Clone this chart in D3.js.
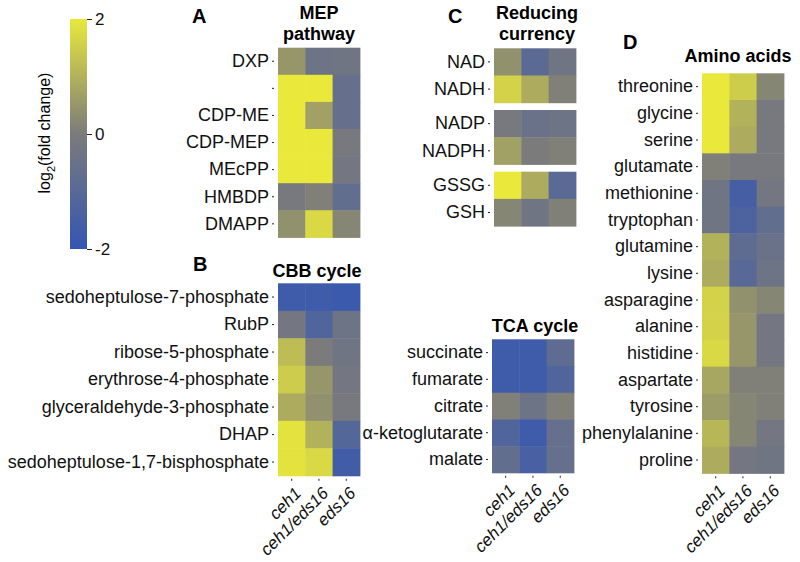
<!DOCTYPE html>
<html>
<head>
<meta charset="utf-8">
<script src="https://cdn.jsdelivr.net/npm/d3@7"></script>
<style>
  body { margin: 0; background: #fff; }
  svg { font-family: "Liberation Sans", Arial, sans-serif; }
  .tick line { stroke: #222; }
  .ax text { font-size: 18px; fill: #111; }
  .xl text { font-style: italic; font-size: 17px; }
  .ttl { font-weight: bold; font-size: 18px; text-anchor: middle; }
  .let { font-weight: bold; font-size: 20px; }
</style>
</head>
<body>
<svg id="chart"></svg>
<script>
// genotypes (columns)
let genotypes = ["ceh1", "ceh1/eds16", "eds16"];

// A: MEP pathway
let mepRows = ["DXP", "", "CDP-ME", "CDP-MEP", "MEcPP", "HMBDP", "DMAPP"];
let mepVals = [
    [0.5, -0.4, -0.3],
    [2.0, 2.0, -0.6],
    [2.0, 0.7, -0.6],
    [2.0, 2.0, -0.1],
    [2.0, 2.0, -0.2],
    [-0.1, 0.1, -0.7],
    [0.4, 1.7, 0.2]
];

// B: CBB cycle
let cbbRows = ["sedoheptulose-7-phosphate", "RubP", "ribose-5-phosphate", "erythrose-4-phosphate",
    "glyceraldehyde-3-phosphate", "DHAP", "sedoheptulose-1,7-bisphosphate"];
let cbbVals = [
    [-1.7, -1.7, -1.8],
    [-0.2, -1.2, -0.4],
    [1.2, 0.0, -0.3],
    [1.5, 0.5, -0.2],
    [0.9, 0.4, -0.1],
    [1.9, 1.0, -1.1],
    [1.9, 1.7, -1.6]
];

// C: reducing currency, three blocks
let redBlocks = [["NAD", "NADH"], ["NADP", "NADPH"], ["GSSG", "GSH"]];
let redVals = [
    [[0.4, -0.9, -0.3], [1.6, 0.9, 0.1]],
    [[-0.1, -0.5, -0.4], [0.7, 0.0, 0.1]],
    [[2.0, 0.9, -0.9], [0.2, -0.3, 0.1]]
];

// C: TCA cycle
let tcaRows = ["succinate", "fumarate", "citrate", "α-ketoglutarate", "malate"];
let tcaVals = [
    [-1.7, -1.7, -0.8],
    [-1.7, -1.7, -1.2],
    [0.1, -0.4, 0.1],
    [-1.2, -1.7, -0.6],
    [-0.7, -1.4, -0.6]
];

// D: amino acids
let aaRows = ["threonine", "glycine", "serine", "glutamate", "methionine", "tryptophan", "glutamine",
    "lysine", "asparagine", "alanine", "histidine", "aspartate", "tyrosine", "phenylalanine", "proline"];
let aaVals = [
    [2.0, 1.5, 0.2],
    [2.0, 1.0, -0.1],
    [2.0, 0.9, -0.1],
    [0.1, -0.1, -0.1],
    [-0.3, -1.5, -0.2],
    [-0.3, -1.3, -0.7],
    [1.0, -0.8, -0.5],
    [0.9, -1.0, -0.4],
    [1.6, 0.4, 0.2],
    [1.6, 0.5, -0.2],
    [1.7, 0.5, -0.2],
    [0.8, 0.1, 0.1],
    [0.6, 0.2, 0.1],
    [1.1, 0.2, -0.2],
    [0.9, -0.2, -0.3]
];

let legendTicks = [-2, 0, 2];

let w = 800, h = 562;
let svg = d3.select("#chart").attr("width", w).attr("height", h);

let color = d3.scaleLinear()
    .domain([-2, 0, 2])
    .range(["#3456b2", "#7b7b7b", "#e9e83b"])
    .clamp(true);

let cellW = 27.3;

function heat(x0, y0, rows, vals, rowH) {
    let x = d3.scaleBand().domain(genotypes).range([x0, x0 + cellW * 3]);
    let y = d3.scaleBand().domain(rows).range([y0, y0 + rowH * rows.length]);
    let g = svg.append("g");
    rows.forEach((r, i) => {
        g.selectAll(null)
            .data(vals[i])
            .enter()
            .append("rect")
            .attr("x", (d, j) => x(genotypes[j]))
            .attr("y", y(r))
            .attr("width", x.bandwidth() + 0.5)
            .attr("height", y.bandwidth() + 0.5)
            .attr("fill", d => color(d));
    });
    let ax = svg.append("g")
        .attr("class", "ax")
        .attr("transform", `translate(${x0 - 4},0)`)
        .call(d3.axisLeft(y).tickSize(2).tickPadding(3));
    ax.select(".domain").remove();
    return x;
}

function xLabels(x, yb) {
    let ax = svg.append("g")
        .attr("class", "ax xl")
        .attr("transform", `translate(0,${yb + 3})`)
        .call(d3.axisBottom(x).tickSize(2).tickPadding(3));
    ax.select(".domain").remove();
    ax.selectAll("text")
        .attr("text-anchor", "end")
        .attr("dy", "0")
        .attr("transform", "translate(7,12) rotate(-45)");
}

// legend
let lg = svg.append("g");
let ly = d3.scaleLinear().domain([-2, 2]).range([249, 19]);
let grad = svg.append("defs").append("linearGradient")
    .attr("id", "lgrad").attr("x1", 0).attr("y1", 1).attr("x2", 0).attr("y2", 0);
grad.selectAll("stop")
    .data(d3.range(-2, 2.01, 0.5))
    .enter().append("stop")
    .attr("offset", d => (d + 2) / 4)
    .attr("stop-color", d => color(d));
lg.append("rect")
    .attr("x", 70).attr("y", ly(2)).attr("width", 17).attr("height", ly(-2) - ly(2))
    .attr("fill", "url(#lgrad)");
let lax = lg.append("g")
    .attr("class", "ax")
    .attr("transform", "translate(87,0)")
    .call(d3.axisRight(ly).tickValues(legendTicks).tickSize(5).tickPadding(3).tickFormat(d => String(d)));
lax.select(".domain").remove();
lax.selectAll("text").style("font-size", "17px");
let lt = lg.append("text")
    .attr("transform", "translate(50,133) rotate(-90)")
    .attr("text-anchor", "middle")
    .style("font-size", "16px");
lt.append("tspan").text("log");
lt.append("tspan").text("2").attr("dy", 5).style("font-size", "11px");
lt.append("tspan").text("(fold change)").attr("dy", -5);

// panel A
let xA = heat(278, 47.7, mepRows, mepVals, 27.1);
svg.append("text").attr("class", "let").attr("x", 192).attr("y", 23).text("A");
svg.append("text").attr("class", "ttl").attr("x", 319).attr("y", 19).text("MEP");
svg.append("text").attr("class", "ttl").attr("x", 319).attr("y", 40).text("pathway");

// panel B
let xB = heat(278, 283.3, cbbRows, cbbVals, 27.5);
svg.append("text").attr("class", "let").attr("x", 193).attr("y", 271).text("B");
svg.append("text").attr("class", "ttl").attr("x", 317).attr("y", 277).text("CBB cycle");
xLabels(xB, 475.8);

// panel C
let blockY = [48.3, 110, 171.7];
redBlocks.forEach((b, i) => heat(494, blockY[i], b, redVals[i], 27.2));
svg.append("text").attr("class", "let").attr("x", 448).attr("y", 23).text("C");
svg.append("text").attr("class", "ttl").attr("x", 537).attr("y", 19).text("Reducing");
svg.append("text").attr("class", "ttl").attr("x", 537).attr("y", 40).text("currency");

let xT = heat(492, 339.3, tcaRows, tcaVals, 26.7);
svg.append("text").attr("class", "ttl").attr("x", 535).attr("y", 332).text("TCA cycle");
xLabels(xT, 472.8);

// panel D
let xD = heat(702, 73.3, aaRows, aaVals, 26.67);
svg.append("text").attr("class", "let").attr("x", 623).attr("y", 49).text("D");
svg.append("text").attr("class", "ttl").attr("x", 738).attr("y", 62).text("Amino acids");
xLabels(xD, 473.3);
</script>
</body>
</html>
